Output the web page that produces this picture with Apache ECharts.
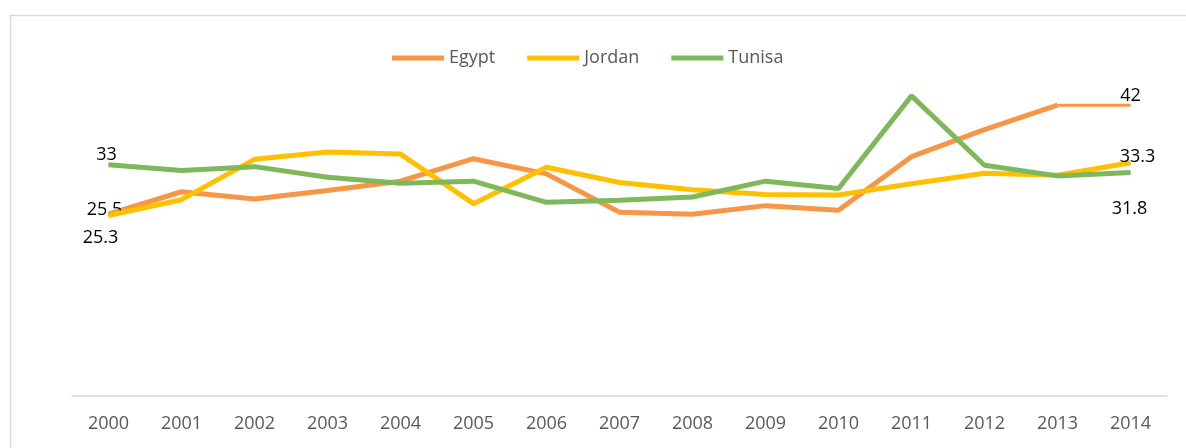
<!DOCTYPE html>
<html>
<head>
<meta charset="utf-8">
<script src="https://cdn.jsdelivr.net/npm/echarts@6/dist/echarts.min.js"></script>
<style>
    html, body { margin: 0; padding: 0; background: #fff; }
    #chart { width: 1186px; height: 448px; }
</style>
</head>
<body>
<div id="chart"></div>
<script>
var years = ['2000', '2001', '2002', '2003', '2004', '2005', '2006', '2007', '2008', '2009', '2010', '2011', '2012', '2013', '2014'];
var egypt = [25.5, 28.9, 27.8, 29.1, 30.5, 33.9, 31.6, 25.8, 25.5, 26.8, 26.1, 34.2, 38.3, 42, 42];
var jordan = [25.3, 27.7, 33.8, 34.9, 34.6, 27.1, 32.6, 30.3, 29.2, 28.5, 28.4, 30.1, 31.7, 31.4, 33.3];
var tunisia = [33, 32.1, 32.7, 31.1, 30.2, 30.5, 27.3, 27.6, 28.1, 30.5, 29.4, 43.4, 32.9, 31.3, 31.8];

var colors = { Egypt: '#F79646', Jordan: '#FFC000', Tunisa: '#7FB85A' };
var fontFamily = '"Open Sans", "Liberation Sans", sans-serif';

// labels only on first and last point, offsets in px
function withLabels(values, firstOffset, lastOffset, upto) {
    var out = [];
    var n = upto === undefined ? values.length : upto;
    for (var i = 0; i < n; i++) {
        var item = { value: values[i] };
        var off = null;
        if (i === 0) off = firstOffset;
        if (i === values.length - 1) off = lastOffset;
        if (off) {
            item.symbol = 'circle';
            item.symbolSize = 1;
            item.label = {
                show: true,
                position: 'inside',
                offset: off,
                color: '#000',
                fontSize: 18,
                fontFamily: fontFamily
            };
        }
        out.push(item);
    }
    return out;
}

// Egypt: last segment is drawn thinner in the original
var egyptTail = [];
for (var i = 0; i < egypt.length; i++) {
    egyptTail.push(i >= egypt.length - 2 ? egypt[i] : null);
}
var egyptTailData = egyptTail.map(function(v, i) {
    if (i === egypt.length - 1) {
        return {
            value: v, symbol: 'circle', symbolSize: 1,
            label: { show: true, position: 'inside', offset: [0, -9], color: '#000', fontSize: 18, fontFamily: fontFamily }
        };
    }
    return v;
});

var chart = echarts.init(document.getElementById('chart'));
chart.setOption({
    animation: false,
    backgroundColor: '#fff',
    graphic: [{
        type: 'rect',
        shape: { x: 10.5, y: 15.5, width: 1300, height: 600 },
        style: { fill: 'none', stroke: '#D9D9D9', lineWidth: 1.5 },
        silent: true
    }],
    legend: {
        data: ['Egypt', 'Jordan', 'Tunisa'],
        left: 387,
        top: 44,
        itemWidth: 52,
        itemHeight: 5,
        itemGap: 32,
        icon: 'rect',
        textStyle: { color: '#595959', fontSize: 18, fontFamily: fontFamily, padding: [0, 0, 0, 0] }
    },
    grid: { left: 72, right: 19, top: 65.5, bottom: 52 },
    xAxis: {
        type: 'category',
        data: years,
        boundaryGap: true,
        axisLine: { onZero: false, lineStyle: { color: '#D9D9D9', width: 1.5 } },
        axisTick: { show: false },
        axisLabel: { color: '#595959', fontSize: 18, fontFamily: fontFamily, margin: 19 }
    },
    yAxis: {
        type: 'value',
        min: -2,
        max: 48,
        show: false,
        splitLine: { show: false }
    },
    series: [{
        name: 'Egypt',
        type: 'line',
        symbol: 'none',
        data: withLabels(egypt, [-4, -4], null, egypt.length - 1),
        lineStyle: { color: colors.Egypt, width: 5 },
        itemStyle: { color: colors.Egypt },
        z: 3
    }, {
        name: 'EgyptTail',
        type: 'line',
        symbol: 'none',
        data: egyptTailData,
        lineStyle: { color: colors.Egypt, width: 3 },
        itemStyle: { color: colors.Egypt },
        z: 3
    }, {
        name: 'Jordan',
        type: 'line',
        symbol: 'none',
        data: withLabels(jordan, [-8, 22], [7, -6]),
        lineStyle: { color: colors.Jordan, width: 5 },
        itemStyle: { color: colors.Jordan },
        z: 4
    }, {
        name: 'Tunisa',
        type: 'line',
        symbol: 'none',
        data: withLabels(tunisia, [-2, -10], [-1, 36]),
        lineStyle: { color: colors.Tunisa, width: 5 },
        itemStyle: { color: colors.Tunisa },
        z: 5
    }]
});
</script>
</body>
</html>
